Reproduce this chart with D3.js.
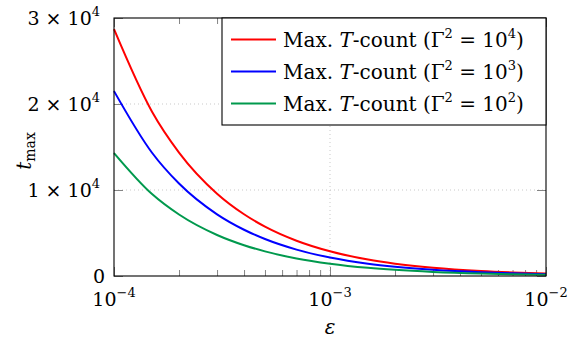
<!DOCTYPE html>
<html>
<head>
<meta charset="utf-8">
<script src="https://cdn.jsdelivr.net/npm/d3@7"></script>
<style>
  body { margin: 0; background: #fff; }
  svg { display: block; }
  text { font-family: "DejaVu Serif", "Liberation Serif", serif; fill: #000; }
</style>
</head>
<body>
<script>
// values
var eps = [1e-4, 1.5e-4, 2e-4, 3e-4, 4e-4, 5e-4, 7e-4, 1e-3, 1.5e-3, 2e-3, 3e-3, 5e-3, 7e-3, 1e-2];
var tRed   = [28700, 19100, 14350, 9570, 7180, 5740, 4100, 2870, 1910, 1435, 957, 574, 410, 287];
var tBlue  = [21500, 14330, 10750, 7170, 5380, 4300, 3070, 2150, 1430, 1075, 717, 430, 307, 215];
var tGreen = [14300, 9530, 7150, 4770, 3580, 2860, 2040, 1430, 950, 715, 477, 286, 204, 143];
var seriesExp = ["4", "3", "2"];
var seriesColors = ["#ff0000", "#0000ff", "#00994d"];

var xMajor = [1e-4, 1e-3, 1e-2];
var xMajorExp = ["−4", "−3", "−2"];
var yMajor = [0, 10000, 20000, 30000];
var yMajorMant = ["0", "1", "2", "3"];

var W = 577, H = 339;
var pL = 114, pR = 546, pT = 18, pB = 276;

var x = d3.scaleLog().domain([1e-4, 1e-2]).range([pL, pR]);
var y = d3.scaleLinear().domain([0, 30000]).range([pB, pT]);

var svg = d3.select('body').append('svg')
  .attr('width', W)
  .attr('height', H);

// minor ticks 2..9 per decade
var xMinor = [];
[1e-4, 1e-3].forEach(function(d){
  for (var k = 2; k <= 9; k++) xMinor.push(d * k);
});

/* grid */
var grid = svg.append('g').attr('class', 'grid');
grid.selectAll('.gx').data([1e-3]).enter()
  .append('line')
  .attr('x1', d => x(d)).attr('x2', d => x(d))
  .attr('y1', pT).attr('y2', pB)
  .attr('stroke', '#bbb').attr('stroke-width', 0.8)
  .attr('stroke-dasharray', '1,3');
grid.selectAll('.gy').data([10000, 20000]).enter()
  .append('line')
  .attr('x1', pL).attr('x2', pR)
  .attr('y1', d => y(d)).attr('y2', d => y(d))
  .attr('stroke', '#bbb').attr('stroke-width', 0.8)
  .attr('stroke-dasharray', '1,3');

/* ticks (inward, all four sides) */
function tickStyle(g){
  g.select('.domain').remove();
  g.selectAll('.tick line').attr('stroke', '#777').attr('stroke-width', 0.9);
}
svg.append('g').attr('transform', `translate(0,${pB})`)
  .call(d3.axisBottom(x).tickValues(xMinor).tickSize(-6).tickFormat(''))
  .call(tickStyle);
svg.append('g').attr('transform', `translate(0,${pT})`)
  .call(d3.axisTop(x).tickValues(xMinor).tickSize(-6).tickFormat(''))
  .call(tickStyle);
svg.append('g').attr('transform', `translate(0,${pB})`)
  .call(d3.axisBottom(x).tickValues(xMajor).tickSize(-9).tickFormat(''))
  .call(tickStyle);
svg.append('g').attr('transform', `translate(0,${pT})`)
  .call(d3.axisTop(x).tickValues(xMajor).tickSize(-9).tickFormat(''))
  .call(tickStyle);
svg.append('g').attr('transform', `translate(${pL},0)`)
  .call(d3.axisLeft(y).tickValues(yMajor).tickSize(-9).tickFormat(''))
  .call(tickStyle);
svg.append('g').attr('transform', `translate(${pR},0)`)
  .call(d3.axisRight(y).tickValues(yMajor).tickSize(-9).tickFormat(''))
  .call(tickStyle);

/* curves */
var line = d3.line()
  .x((d, i) => x(eps[i]))
  .y(d => y(d))
  .curve(d3.curveMonotoneX);

var plot = svg.append('g').attr('class', 'lines');
plot.selectAll('path')
  .data([tRed, tBlue, tGreen]).enter()
  .append('path')
  .attr('d', d => line(d))
  .attr('fill', 'none')
  .attr('stroke', (d, i) => seriesColors[i])
  .attr('stroke-width', 2);

/* frame */
svg.append('rect')
  .attr('x', pL).attr('y', pT)
  .attr('width', pR - pL).attr('height', pB - pT)
  .attr('fill', 'none').attr('stroke', '#000').attr('stroke-width', 1.1);

/* tick labels */
var xl = svg.append('g').attr('font-size', 19);
xMajor.forEach(function(v, i){
  var t = xl.append('text')
    .attr('x', x(v)).attr('y', 306)
    .attr('text-anchor', 'middle');
  t.append('tspan').text('10');
  t.append('tspan').attr('dy', -9).attr('font-size', 13).text(xMajorExp[i]);
});

var yl = svg.append('g').attr('font-size', 19);
yMajor.forEach(function(v, i){
  var t = yl.append('text')
    .attr('x', v === 0 ? 105 : 100).attr('y', y(v) + 7)
    .attr('text-anchor', 'end');
  if (v === 0) { t.text('0'); return; }
  t.append('tspan').text(yMajorMant[i] + ' × 10');
  t.append('tspan').attr('dy', -9).attr('font-size', 13).text('4');
});

/* axis labels */
svg.append('text')
  .attr('x', 330).attr('y', 334)
  .attr('text-anchor', 'middle')
  .attr('font-size', 20).attr('font-style', 'italic')
  .text('ε');

var yt = svg.append('text')
  .attr('transform', 'translate(31,151) rotate(-90)')
  .attr('text-anchor', 'middle')
  .attr('font-size', 20);
yt.append('tspan').attr('font-style', 'italic').text('t');
yt.append('tspan').attr('dy', 4).attr('font-size', 14).text('max');

/* legend */
var lg = svg.append('g').attr('class', 'legend');
lg.append('rect')
  .attr('x', 222).attr('y', pT)
  .attr('width', pR - 222).attr('height', 107)
  .attr('fill', '#fff').attr('stroke', '#000').attr('stroke-width', 1.1);

seriesExp.forEach(function(ex, i){
  var cy = 39.5 + i * 32;
  lg.append('line')
    .attr('x1', 231).attr('x2', 276)
    .attr('y1', cy).attr('y2', cy)
    .attr('stroke', seriesColors[i]).attr('stroke-width', 2);
  var t = lg.append('text')
    .attr('x', 283).attr('y', cy + 7)
    .attr('font-size', 20);
  t.append('tspan').text('Max. ');
  t.append('tspan').attr('font-style', 'italic').text('T');
  t.append('tspan').text('-count (Γ');
  t.append('tspan').attr('dy', -9).attr('font-size', 13).text('2');
  t.append('tspan').attr('dy', 9).text(' = 10');
  t.append('tspan').attr('dy', -9).attr('font-size', 13).text(ex);
  t.append('tspan').attr('dy', 9).text(')');
});
</script>
</body>
</html>
